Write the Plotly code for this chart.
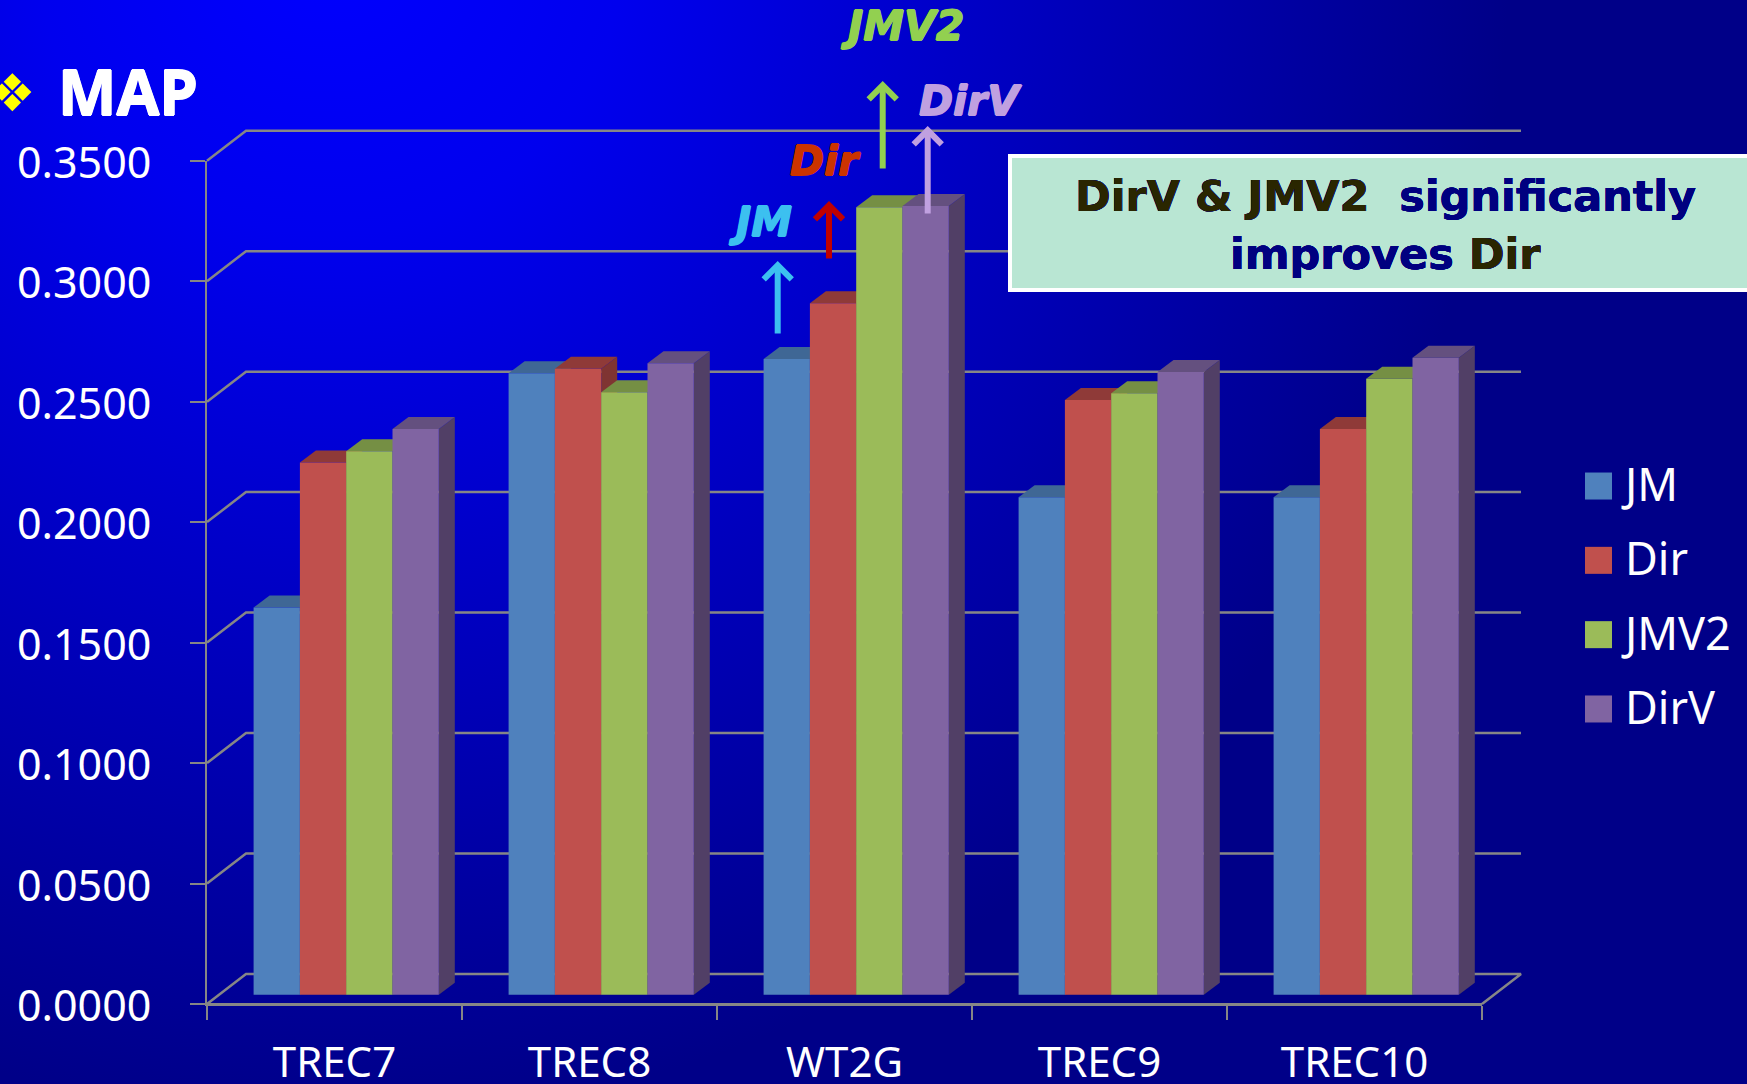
import base64
import plotly.graph_objects as go

W = 1747
H = 1084

categories = ["TREC7", "TREC8", "WT2G", "TREC9", "TREC10"]
jm = [0.1607, 0.2579, 0.2638, 0.2065, 0.2065]
dir_ = [0.2209, 0.2598, 0.2870, 0.2468, 0.2348]
jmv2 = [0.2255, 0.2500, 0.3268, 0.2496, 0.2556]
dirv = [0.2348, 0.2621, 0.3273, 0.2584, 0.2644]
y_ticks = [0.0, 0.05, 0.10, 0.15, 0.20, 0.25, 0.30, 0.35]

series = [
    ("JM", jm, "#4f81bd", "#3f6795", "#3a5a85"),
    ("Dir", dir_, "#c0504d", "#8f3a38", "#7f3432"),
    ("JMV2", jmv2, "#9bbb59", "#758f44", "#66803b"),
    ("DirV", dirv, "#8064a2", "#64507f", "#513f66"),
]

# pixel frame of the front plane of the chart
LEFT, RIGHT = 207.0, 1482.0
TOP, BOTTOM = 160.7, 1004.0
X_PER_CAT = (RIGHT - LEFT) / len(categories)
Y_PER_UNIT = (BOTTOM - TOP) / 0.35

# fake 3d depth, in axis units
WALL_DX = 39 / X_PER_CAT
WALL_DY = 30 / Y_PER_UNIT
INSET_DX = 11.7 / X_PER_CAT
INSET_DY = 9.3 / Y_PER_UNIT
BAR_DX = 16 / X_PER_CAT
BAR_DY = 12 / Y_PER_UNIT
BAR_W = 46.3 / X_PER_CAT

GRID = "#868686"

# the drawing axes fill the whole figure so nothing behind the bars gets clipped
FULL_X = [-LEFT / X_PER_CAT, (W - LEFT) / X_PER_CAT]
FULL_Y = [-(H - BOTTOM) / Y_PER_UNIT, BOTTOM / Y_PER_UNIT]


def px(x):
    return x / W


def py(y):
    return 1 - y / H


def thick(col, r=0.7):
    # the slide text is heavier than the installed bold faces
    return "%spx 0 0 %s, -%spx 0 0 %s, 0 %spx 0 %s, 0 -%spx 0 %s" % (r, col, r, col, r, col, r, col)


svg = (
    '<svg xmlns="http://www.w3.org/2000/svg" width="1747" height="1084">'
    '<defs><radialGradient id="g" gradientUnits="userSpaceOnUse" cx="330" cy="-60" r="1180">'
    '<stop offset="0" stop-color="#0000ff"/><stop offset="0.25" stop-color="#0000ee"/>'
    '<stop offset="1" stop-color="#000088"/></radialGradient></defs>'
    '<rect width="1747" height="1084" fill="url(#g)"/></svg>'
)
bg = "data:image/svg+xml;base64," + base64.b64encode(svg.encode()).decode()

fig = go.Figure()

# back wall grid lines and floor
for v in y_ticks:
    fig.add_trace(go.Scatter(
        x=[0, WALL_DX, len(categories) + WALL_DX] + ([len(categories)] if v == 0 else []),
        y=[v, v + WALL_DY, v + WALL_DY] + ([v] if v == 0 else []),
        mode="lines", line=dict(color=GRID, width=2.5),
        showlegend=False, hoverinfo="skip",
    ))

# top and side faces of the bars, left to right
for i in range(len(categories)):
    for j, (name, vals, col, top_col, side_col) in enumerate(series):
        x0 = i + 0.5 + INSET_DX + (j - 2) * BAR_W
        x1 = x0 + BAR_W
        y0 = INSET_DY
        y1 = INSET_DY + vals[i]
        fig.add_trace(go.Scatter(
            x=[x1, x1 + BAR_DX, x1 + BAR_DX, x1, x1],
            y=[y0, y0 + BAR_DY, y1 + BAR_DY, y1, y0],
            mode="lines", fill="toself", fillcolor=side_col, line=dict(width=0),
            showlegend=False, hoverinfo="skip",
        ))
        fig.add_trace(go.Scatter(
            x=[x0, x0 + BAR_DX, x1 + BAR_DX, x1, x0],
            y=[y1, y1 + BAR_DY, y1 + BAR_DY, y1, y1],
            mode="lines", fill="toself", fillcolor=top_col, line=dict(width=0),
            showlegend=False, hoverinfo="skip",
        ))

# front faces, on the overlaid axes so they stay above the faces behind
for j, (name, vals, col, top_col, side_col) in enumerate(series):
    fig.add_trace(go.Bar(
        x=[i + 0.5 + INSET_DX + (j - 1.5) * BAR_W for i in range(len(categories))],
        y=vals, base=INSET_DY, width=BAR_W, name=name,
        marker=dict(color=col, line=dict(width=0)),
        xaxis="x2", yaxis="y2", showlegend=False,
    ))

# the tick axes need a trace of their own to be drawn
fig.add_trace(go.Scatter(
    x=[0, len(categories)], y=[0, 0],
    mode="lines", line=dict(color=GRID, width=2),
    xaxis="x3", yaxis="y3", cliponaxis=False, showlegend=False, hoverinfo="skip",
))

# legend with big square swatches
fig.add_trace(go.Scatter(
    x=[13.5, 13.5, 13.5, 13.5], y=[0, 1, 2, 3],
    mode="markers",
    marker=dict(symbol="square", size=27, color=[s[2] for s in series], line=dict(width=0)),
    xaxis="x4", yaxis="y4", cliponaxis=False, showlegend=False, hoverinfo="skip",
))
fig.add_trace(go.Scatter(
    x=[40, 40, 40, 40], y=[0.05, 1.05, 2.05, 3.05],
    mode="text",
    text=[s[0] for s in series], textposition="middle right",
    textfont=dict(family="Noto Sans", size=45, color="white"),
    xaxis="x4", yaxis="y4", cliponaxis=False, showlegend=False, hoverinfo="skip",
))

callouts = [
    ("JM", "#3cc0f0", "#3cc0f0", 760, 222, 777.7, 335, 261),
    ("Dir", "#cc3300", "#c00000", 825, 161, 829, 260, 201),
    ("JMV2", "#92d050", "#92d050", 902, 26, 882.7, 170, 81),
    ("DirV", "#c0a0e0", "#c0a0e0", 970, 101, 927.7, 215, 126),
]
annotations = []
for label, col, arrow_col, tx, ty, ax_x, y_from, y_to in callouts:
    annotations.append(dict(
        text="<b><i>%s</i></b>" % label, x=px(tx), y=py(ty), xref="paper", yref="paper",
        xanchor="center", yanchor="middle",
        showarrow=False, font=dict(family="DejaVu Sans", size=41, color=col, shadow=thick(col)),
    ))
    annotations.append(dict(
        text="", x=px(ax_x), y=py(y_to), xref="paper", yref="paper",
        ax=0, ay=y_from - y_to, showarrow=True, arrowhead=4, arrowsize=0.9,
        arrowwidth=6, arrowcolor=arrow_col,
    ))

OLIVE = "#2a2600"
NAVY = "#000080"
annotations += [
    dict(text="❖", x=px(12), y=py(93), xref="paper", yref="paper", showarrow=False,
         xanchor="center", yanchor="middle",
         font=dict(family="DejaVu Sans", size=52, color="#ffff00")),
    dict(text="<b>MAP</b>", x=px(56), y=py(91), xref="paper", yref="paper", xanchor="left",
         yanchor="middle", showarrow=False,
         font=dict(family="Noto Sans", size=62, color="white", shadow=thick("white"))),
    dict(text="<b><span style='color:%s'>DirV &amp; JMV2</span>&nbsp;&nbsp;significantly</b>" % OLIVE,
         x=px(1385), y=py(196), xref="paper", yref="paper", showarrow=False,
         xanchor="center", yanchor="middle",
         font=dict(family="DejaVu Sans", size=43, color=NAVY, shadow=thick(NAVY, 0.3))),
    dict(text="<b>improves <span style='color:%s'>Dir</span></b>" % OLIVE,
         x=px(1385), y=py(254), xref="paper", yref="paper", showarrow=False,
         xanchor="center", yanchor="middle",
         font=dict(family="DejaVu Sans", size=43, color=NAVY, shadow=thick(NAVY, 0.3))),
]

fig.update_layout(
    width=W, height=H,
    margin=dict(l=0, r=0, t=0, b=0, autoexpand=False),
    paper_bgcolor="#000088", plot_bgcolor="rgba(0,0,0,0)",
    showlegend=False,
    barmode="overlay",
    font=dict(family="Noto Sans", color="white"),
    images=[dict(source=bg, xref="paper", yref="paper", x=0, y=1, sizex=1, sizey=1,
                 xanchor="left", yanchor="top", sizing="stretch", layer="below")],
    shapes=[dict(type="rect", xref="paper", yref="paper", x0=px(1010), x1=px(1765),
                 y0=py(290), y1=py(156), fillcolor="#b9e6d3",
                 line=dict(color="white", width=4), layer="above")],
    annotations=annotations,
    xaxis=dict(domain=[0, 1], range=FULL_X, visible=False, automargin=False),
    yaxis=dict(domain=[0, 1], range=FULL_Y, visible=False, automargin=False),
    xaxis2=dict(overlaying="x", range=FULL_X, visible=False, anchor="y2", automargin=False),
    yaxis2=dict(overlaying="y", range=FULL_Y, visible=False, anchor="x2", automargin=False),
    # the axes that carry ticks and labels sit on the front plane
    xaxis3=dict(
        domain=[px(LEFT), px(RIGHT)], range=[0, len(categories)], anchor="y3",
        tickmode="array", tickvals=[i + 0.5 for i in range(len(categories))], ticktext=categories,
        ticks="", ticklabelstandoff=21, automargin=False,
        minor=dict(tickmode="array", tickvals=list(range(len(categories) + 1)),
                   ticks="outside", ticklen=14, tickwidth=2, tickcolor=GRID, showgrid=False),
        tickfont=dict(family="Noto Sans", size=42, color="white"),
        showline=True, linecolor=GRID, linewidth=2, showgrid=False, zeroline=False,
    ),
    yaxis3=dict(
        domain=[py(BOTTOM), py(TOP)], range=[0, 0.35], anchor="x3",
        tickmode="array", tickvals=y_ticks, tickformat=".4f",
        ticks="outside", ticklen=15, tickwidth=2, tickcolor=GRID,
        ticklabelstandoff=30, ticklabelshift=2, automargin=False,
        tickfont=dict(family="Noto Sans", size=43, color="white"),
        showline=True, linecolor=GRID, linewidth=2, showgrid=False, zeroline=False,
    ),
    xaxis4=dict(
        domain=[px(1585), px(1747)], range=[0, 162], anchor="y4", visible=False,
        automargin=False,
    ),
    yaxis4=dict(
        # one full row of slack on each side so nothing drops out of the range
        domain=[py(783.3), py(411.7)], range=[4, -1], anchor="x4", visible=False,
        automargin=False,
    ),
)

fig.write_html("out.html", config=dict(displayModeBar=False),
               post_script="document.body.style.margin='0'")
